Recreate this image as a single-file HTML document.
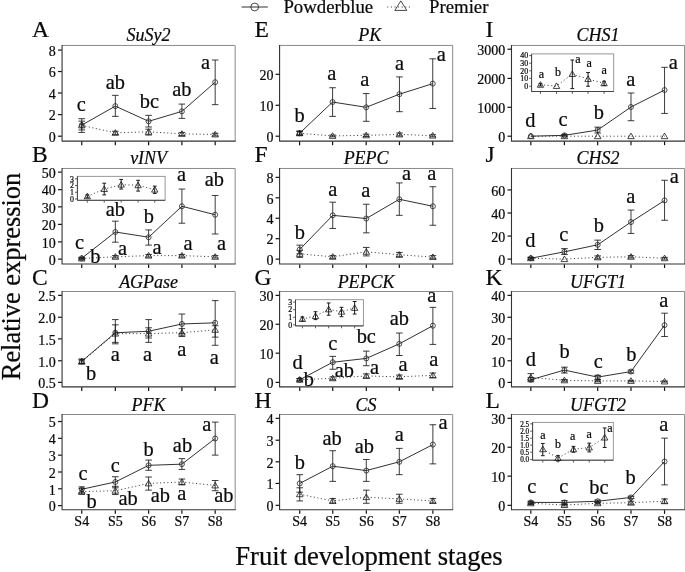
<!DOCTYPE html>
<html><head><meta charset="utf-8"><title>Relative expression</title>
<style>
html,body{margin:0;padding:0;background:#fff;}
body{width:685px;height:572px;overflow:hidden;font-family:"Liberation Serif",serif;}
svg{display:block;filter:grayscale(1);}
svg text{font-family:"Liberation Serif",serif;fill:#0a0a0a;stroke:#0a0a0a;stroke-width:0.22px;}
</style></head><body>
<svg width="685" height="572" viewBox="0 0 685 572">
<rect width="685" height="572" fill="#fff"/>
<path d="M62.07 45.45 H235.17 V141.15" fill="none" stroke="#8a8a8a" stroke-width="1"/>
<path d="M62.07 44.95 V141.15 H235.67" fill="none" stroke="#333" stroke-width="1.1" stroke-linejoin="round"/>
<path d="M58.07 50.07 H61.77" stroke="#111" stroke-width="1.2"/>
<text x="55.87" y="55.87" font-size="14.0" text-anchor="end" stroke-width="0.08">8</text>
<path d="M58.07 71.53 H61.77" stroke="#111" stroke-width="1.2"/>
<text x="55.87" y="77.33" font-size="14.0" text-anchor="end" stroke-width="0.08">6</text>
<path d="M58.07 92.99 H61.77" stroke="#111" stroke-width="1.2"/>
<text x="55.87" y="98.79" font-size="14.0" text-anchor="end" stroke-width="0.08">4</text>
<path d="M58.07 114.6 H61.77" stroke="#111" stroke-width="1.2"/>
<text x="55.87" y="120.4" font-size="14.0" text-anchor="end" stroke-width="0.08">2</text>
<path d="M58.07 136.2 H61.77" stroke="#111" stroke-width="1.2"/>
<text x="55.87" y="142" font-size="14.0" text-anchor="end" stroke-width="0.08">0</text>
<path d="M81.75 141.55 V145.15" stroke="#111" stroke-width="1.2"/>
<path d="M115.33 141.55 V145.15" stroke="#111" stroke-width="1.2"/>
<path d="M148.61 141.55 V145.15" stroke="#111" stroke-width="1.2"/>
<path d="M181.9 141.55 V145.15" stroke="#111" stroke-width="1.2"/>
<path d="M215.18 141.55 V145.15" stroke="#111" stroke-width="1.2"/>
<path d="M81.75 125.4 L115.33 132.85 L148.61 131.82 L181.9 133.87 L215.18 134.45" fill="none" stroke="#1a1a1a" stroke-width="0.9" stroke-dasharray="1 2.6"/>
<path d="M81.75 125.11 L115.33 106.13 L148.61 121.31 L181.9 111.39 L215.18 82.19" fill="none" stroke="#1a1a1a" stroke-width="0.9"/>
<path d="M81.75 118.69 V132.41 M78.45 118.69 H85.05 M78.45 132.41 H85.05" fill="none" stroke="#1a1a1a" stroke-width="0.85"/>
<path d="M115.33 131.24 V134.45 M112.03 131.24 H118.63 M112.03 134.45 H118.63" fill="none" stroke="#1a1a1a" stroke-width="0.85"/>
<path d="M148.61 129.2 V135.04 M145.31 129.2 H151.91 M145.31 135.04 H151.91" fill="none" stroke="#1a1a1a" stroke-width="0.85"/>
<path d="M181.9 132.41 V135.62 M178.6 132.41 H185.2 M178.6 135.62 H185.2" fill="none" stroke="#1a1a1a" stroke-width="0.85"/>
<path d="M215.18 133.28 V135.91 M211.88 133.28 H218.48 M211.88 135.91 H218.48" fill="none" stroke="#1a1a1a" stroke-width="0.85"/>
<path d="M81.75 121.17 V129.93 M78.45 121.17 H85.05 M78.45 129.93 H85.05" fill="none" stroke="#1a1a1a" stroke-width="0.85"/>
<path d="M115.33 95.33 V116.35 M112.03 95.33 H118.63 M112.03 116.35 H118.63" fill="none" stroke="#1a1a1a" stroke-width="0.85"/>
<path d="M148.61 115.33 V127.01 M145.31 115.33 H151.91 M145.31 127.01 H151.91" fill="none" stroke="#1a1a1a" stroke-width="0.85"/>
<path d="M181.9 104.09 V118.39 M178.6 104.09 H185.2 M178.6 118.39 H185.2" fill="none" stroke="#1a1a1a" stroke-width="0.85"/>
<path d="M215.18 60 V104.67 M211.88 60 H218.48 M211.88 104.67 H218.48" fill="none" stroke="#1a1a1a" stroke-width="0.85"/>
<path d="M81.75 122.27 L85.05 127.87 L78.45 127.87 Z" fill="none" stroke="#1a1a1a" stroke-width="0.8" stroke-linejoin="miter"/>
<path d="M115.33 129.71 L118.63 135.31 L112.03 135.31 Z" fill="none" stroke="#1a1a1a" stroke-width="0.8" stroke-linejoin="miter"/>
<path d="M148.61 128.69 L151.91 134.29 L145.31 134.29 Z" fill="none" stroke="#1a1a1a" stroke-width="0.8" stroke-linejoin="miter"/>
<path d="M181.9 130.73 L185.2 136.33 L178.6 136.33 Z" fill="none" stroke="#1a1a1a" stroke-width="0.8" stroke-linejoin="miter"/>
<path d="M215.18 131.32 L218.48 136.92 L211.88 136.92 Z" fill="none" stroke="#1a1a1a" stroke-width="0.8" stroke-linejoin="miter"/>
<circle cx="81.75" cy="125.11" r="2.5" fill="none" stroke="#1a1a1a" stroke-width="0.75"/>
<circle cx="115.33" cy="106.13" r="2.5" fill="none" stroke="#1a1a1a" stroke-width="0.75"/>
<circle cx="148.61" cy="121.31" r="2.5" fill="none" stroke="#1a1a1a" stroke-width="0.75"/>
<circle cx="181.9" cy="111.39" r="2.5" fill="none" stroke="#1a1a1a" stroke-width="0.75"/>
<circle cx="215.18" cy="82.19" r="2.5" fill="none" stroke="#1a1a1a" stroke-width="0.75"/>
<text x="81.17" y="111.35" font-size="20.4" text-anchor="middle">c</text>
<text x="115.33" y="89.16" font-size="20.4" text-anchor="middle">ab</text>
<text x="149.49" y="108.43" font-size="20.4" text-anchor="middle">bc</text>
<text x="181.9" y="95.87" font-size="20.4" text-anchor="middle">ab</text>
<text x="205.55" y="68.72" font-size="20.4" text-anchor="middle">a</text>
<text x="148.62" y="41.45" font-size="18" text-anchor="middle" font-style="italic">SuSy2</text>
<text x="32" y="36.6" font-size="23.5" text-anchor="start">A</text>
<path d="M62.07 168.47 H235.17 V264" fill="none" stroke="#8a8a8a" stroke-width="1"/>
<path d="M62.07 167.97 V264 H235.67" fill="none" stroke="#333" stroke-width="1.1" stroke-linejoin="round"/>
<path d="M58.07 172.12 H61.77" stroke="#111" stroke-width="1.2"/>
<text x="55.87" y="177.92" font-size="14.0" text-anchor="end" stroke-width="0.08">50</text>
<path d="M58.07 189.64 H61.77" stroke="#111" stroke-width="1.2"/>
<text x="55.87" y="195.44" font-size="14.0" text-anchor="end" stroke-width="0.08">40</text>
<path d="M58.07 206.86 H61.77" stroke="#111" stroke-width="1.2"/>
<text x="55.87" y="212.66" font-size="14.0" text-anchor="end" stroke-width="0.08">30</text>
<path d="M58.07 224.38 H61.77" stroke="#111" stroke-width="1.2"/>
<text x="55.87" y="230.18" font-size="14.0" text-anchor="end" stroke-width="0.08">20</text>
<path d="M58.07 241.9 H61.77" stroke="#111" stroke-width="1.2"/>
<text x="55.87" y="247.7" font-size="14.0" text-anchor="end" stroke-width="0.08">10</text>
<path d="M58.07 259.12 H61.77" stroke="#111" stroke-width="1.2"/>
<text x="55.87" y="264.92" font-size="14.0" text-anchor="end" stroke-width="0.08">0</text>
<path d="M81.75 264.4 V268" stroke="#111" stroke-width="1.2"/>
<path d="M115.33 264.4 V268" stroke="#111" stroke-width="1.2"/>
<path d="M148.61 264.4 V268" stroke="#111" stroke-width="1.2"/>
<path d="M181.9 264.4 V268" stroke="#111" stroke-width="1.2"/>
<path d="M215.18 264.4 V268" stroke="#111" stroke-width="1.2"/>
<path d="M81.75 258.54 L115.33 256.79 L148.61 255.62 L181.9 255.62 L215.18 256.79" fill="none" stroke="#1a1a1a" stroke-width="0.9" stroke-dasharray="1 2.6"/>
<path d="M81.75 258.25 L115.33 231.97 L148.61 237.23 L181.9 206.28 L215.18 214.74" fill="none" stroke="#1a1a1a" stroke-width="0.9"/>
<path d="M81.75 257.96 V259.12 M78.45 257.96 H85.05 M78.45 259.12 H85.05" fill="none" stroke="#1a1a1a" stroke-width="0.85"/>
<path d="M115.33 255.62 V257.96 M112.03 255.62 H118.63 M112.03 257.96 H118.63" fill="none" stroke="#1a1a1a" stroke-width="0.85"/>
<path d="M148.61 254.45 V257.08 M145.31 254.45 H151.91 M145.31 257.08 H151.91" fill="none" stroke="#1a1a1a" stroke-width="0.85"/>
<path d="M181.9 254.45 V257.08 M178.6 254.45 H185.2 M178.6 257.08 H185.2" fill="none" stroke="#1a1a1a" stroke-width="0.85"/>
<path d="M215.18 255.62 V257.96 M211.88 255.62 H218.48 M211.88 257.96 H218.48" fill="none" stroke="#1a1a1a" stroke-width="0.85"/>
<path d="M81.75 257.37 V259.12 M78.45 257.37 H85.05 M78.45 259.12 H85.05" fill="none" stroke="#1a1a1a" stroke-width="0.85"/>
<path d="M115.33 221.17 V242.19 M112.03 221.17 H118.63 M112.03 242.19 H118.63" fill="none" stroke="#1a1a1a" stroke-width="0.85"/>
<path d="M148.61 229.93 V245.11 M145.31 229.93 H151.91 M145.31 245.11 H151.91" fill="none" stroke="#1a1a1a" stroke-width="0.85"/>
<path d="M181.9 189.05 V223.21 M178.6 189.05 H185.2 M178.6 223.21 H185.2" fill="none" stroke="#1a1a1a" stroke-width="0.85"/>
<path d="M215.18 195.47 V234.01 M211.88 195.47 H218.48 M211.88 234.01 H218.48" fill="none" stroke="#1a1a1a" stroke-width="0.85"/>
<path d="M81.75 255.4 L85.05 261 L78.45 261 Z" fill="none" stroke="#1a1a1a" stroke-width="0.8" stroke-linejoin="miter"/>
<path d="M115.33 253.65 L118.63 259.25 L112.03 259.25 Z" fill="none" stroke="#1a1a1a" stroke-width="0.8" stroke-linejoin="miter"/>
<path d="M148.61 252.48 L151.91 258.08 L145.31 258.08 Z" fill="none" stroke="#1a1a1a" stroke-width="0.8" stroke-linejoin="miter"/>
<path d="M181.9 252.48 L185.2 258.08 L178.6 258.08 Z" fill="none" stroke="#1a1a1a" stroke-width="0.8" stroke-linejoin="miter"/>
<path d="M215.18 253.65 L218.48 259.25 L211.88 259.25 Z" fill="none" stroke="#1a1a1a" stroke-width="0.8" stroke-linejoin="miter"/>
<circle cx="81.75" cy="258.25" r="2.5" fill="none" stroke="#1a1a1a" stroke-width="0.75"/>
<circle cx="115.33" cy="231.97" r="2.5" fill="none" stroke="#1a1a1a" stroke-width="0.75"/>
<circle cx="148.61" cy="237.23" r="2.5" fill="none" stroke="#1a1a1a" stroke-width="0.75"/>
<circle cx="181.9" cy="206.28" r="2.5" fill="none" stroke="#1a1a1a" stroke-width="0.75"/>
<circle cx="215.18" cy="214.74" r="2.5" fill="none" stroke="#1a1a1a" stroke-width="0.75"/>
<text x="79.42" y="249.45" font-size="20.4" text-anchor="middle">c</text>
<text x="95.47" y="262.59" font-size="20.4" text-anchor="middle">b</text>
<text x="115.33" y="216.46" font-size="20.4" text-anchor="middle">ab</text>
<text x="122.63" y="255.29" font-size="20.4" text-anchor="middle">a</text>
<text x="148.91" y="223.17" font-size="20.4" text-anchor="middle">b</text>
<text x="157.08" y="253.83" font-size="20.4" text-anchor="middle">a</text>
<text x="181.61" y="180.84" font-size="20.4" text-anchor="middle">a</text>
<text x="188.03" y="250.33" font-size="20.4" text-anchor="middle">a</text>
<text x="214.31" y="186.09" font-size="20.4" text-anchor="middle">ab</text>
<text x="221.61" y="250.33" font-size="20.4" text-anchor="middle">a</text>
<text x="148.62" y="164.47" font-size="18" text-anchor="middle" font-style="italic">vINV</text>
<text x="32" y="161.57" font-size="23.5" text-anchor="start">B</text>
<rect x="77.4" y="176.35" width="87.7" height="23.95" fill="#fff" stroke="#8c8c8c" stroke-width="0.9"/>
<path d="M77.4 176.35 V200.3 H165.1" fill="none" stroke="#444" stroke-width="1"/>
<path d="M75 178.83 H77.1" stroke="#333" stroke-width="0.8"/>
<text x="74" y="181.53" font-size="7.9" text-anchor="end" stroke="none">3</text>
<path d="M75 185.55 H77.1" stroke="#333" stroke-width="0.8"/>
<text x="74" y="188.25" font-size="7.9" text-anchor="end" stroke="none">2</text>
<path d="M75 192.26 H77.1" stroke="#333" stroke-width="0.8"/>
<text x="74" y="194.96" font-size="7.9" text-anchor="end" stroke="none">1</text>
<path d="M75 198.98 H77.1" stroke="#333" stroke-width="0.8"/>
<text x="74" y="201.68" font-size="7.9" text-anchor="end" stroke="none">0</text>
<path d="M87.3 200.6 V202.7" stroke="#333" stroke-width="0.8"/>
<path d="M104.23 200.6 V202.7" stroke="#333" stroke-width="0.8"/>
<path d="M121.17 200.6 V202.7" stroke="#333" stroke-width="0.8"/>
<path d="M138.1 200.6 V202.7" stroke="#333" stroke-width="0.8"/>
<path d="M154.74 200.6 V202.7" stroke="#333" stroke-width="0.8"/>
<path d="M87.3 196.35 L104.23 189.05 L121.17 184.67 L138.1 185.26 L154.74 189.64" fill="none" stroke="#1a1a1a" stroke-width="0.9" stroke-dasharray="1 2.6"/>
<path d="M87.3 194.89 V197.81 M85.4 194.89 H89.2 M85.4 197.81 H89.2" fill="none" stroke="#1a1a1a" stroke-width="1.0"/>
<path d="M104.23 183.21 V194.89 M102.33 183.21 H106.13 M102.33 194.89 H106.13" fill="none" stroke="#1a1a1a" stroke-width="1.0"/>
<path d="M121.17 179.42 V189.05 M119.27 179.42 H123.07 M119.27 189.05 H123.07" fill="none" stroke="#1a1a1a" stroke-width="1.0"/>
<path d="M138.1 180.29 V191.09 M136.2 180.29 H140 M136.2 191.09 H140" fill="none" stroke="#1a1a1a" stroke-width="1.0"/>
<path d="M154.74 186.13 V193.43 M152.84 186.13 H156.64 M152.84 193.43 H156.64" fill="none" stroke="#1a1a1a" stroke-width="1.0"/>
<path d="M87.3 193.21 L90.5 198.81 L84.1 198.81 Z" fill="none" stroke="#1a1a1a" stroke-width="0.8" stroke-linejoin="miter"/>
<path d="M104.23 185.92 L107.43 191.52 L101.03 191.52 Z" fill="none" stroke="#1a1a1a" stroke-width="0.8" stroke-linejoin="miter"/>
<path d="M121.17 181.54 L124.37 187.14 L117.97 187.14 Z" fill="none" stroke="#1a1a1a" stroke-width="0.8" stroke-linejoin="miter"/>
<path d="M138.1 182.12 L141.3 187.72 L134.9 187.72 Z" fill="none" stroke="#1a1a1a" stroke-width="0.8" stroke-linejoin="miter"/>
<path d="M154.74 186.5 L157.94 192.1 L151.54 192.1 Z" fill="none" stroke="#1a1a1a" stroke-width="0.8" stroke-linejoin="miter"/>
<path d="M62.07 291.5 H235.17 V386.9" fill="none" stroke="#8a8a8a" stroke-width="1"/>
<path d="M62.07 291 V386.9 H235.67" fill="none" stroke="#333" stroke-width="1.1" stroke-linejoin="round"/>
<path d="M58.07 295.36 H61.77" stroke="#111" stroke-width="1.2"/>
<text x="55.87" y="301.16" font-size="14.0" text-anchor="end" stroke-width="0.08">2.5</text>
<path d="M58.07 317.26 H61.77" stroke="#111" stroke-width="1.2"/>
<text x="55.87" y="323.06" font-size="14.0" text-anchor="end" stroke-width="0.08">2.0</text>
<path d="M58.07 338.87 H61.77" stroke="#111" stroke-width="1.2"/>
<text x="55.87" y="344.67" font-size="14.0" text-anchor="end" stroke-width="0.08">1.5</text>
<path d="M58.07 360.77 H61.77" stroke="#111" stroke-width="1.2"/>
<text x="55.87" y="366.57" font-size="14.0" text-anchor="end" stroke-width="0.08">1.0</text>
<path d="M58.07 382.37 H61.77" stroke="#111" stroke-width="1.2"/>
<text x="55.87" y="388.17" font-size="14.0" text-anchor="end" stroke-width="0.08">0.5</text>
<path d="M81.75 387.3 V390.9" stroke="#111" stroke-width="1.2"/>
<path d="M115.33 387.3 V390.9" stroke="#111" stroke-width="1.2"/>
<path d="M148.61 387.3 V390.9" stroke="#111" stroke-width="1.2"/>
<path d="M181.9 387.3 V390.9" stroke="#111" stroke-width="1.2"/>
<path d="M215.18 387.3 V390.9" stroke="#111" stroke-width="1.2"/>
<path d="M81.75 361.64 L115.33 333.61 L148.61 333.61 L181.9 332.74 L215.18 329.82" fill="none" stroke="#1a1a1a" stroke-width="0.9" stroke-dasharray="1 2.6"/>
<path d="M81.75 361.35 L115.33 332.74 L148.61 331.28 L181.9 323.98 L215.18 322.81" fill="none" stroke="#1a1a1a" stroke-width="0.9"/>
<path d="M81.75 359.89 V363.39 M78.45 359.89 H85.05 M78.45 363.39 H85.05" fill="none" stroke="#1a1a1a" stroke-width="0.85"/>
<path d="M115.33 324.85 V342.37 M112.03 324.85 H118.63 M112.03 342.37 H118.63" fill="none" stroke="#1a1a1a" stroke-width="0.85"/>
<path d="M148.61 327.77 V337.99 M145.31 327.77 H151.91 M145.31 337.99 H151.91" fill="none" stroke="#1a1a1a" stroke-width="0.85"/>
<path d="M181.9 328.65 V336.53 M178.6 328.65 H185.2 M178.6 336.53 H185.2" fill="none" stroke="#1a1a1a" stroke-width="0.85"/>
<path d="M215.18 325.73 V337.12 M211.88 325.73 H218.48 M211.88 337.12 H218.48" fill="none" stroke="#1a1a1a" stroke-width="0.85"/>
<path d="M81.75 359.01 V363.69 M78.45 359.01 H85.05 M78.45 363.69 H85.05" fill="none" stroke="#1a1a1a" stroke-width="0.85"/>
<path d="M115.33 319.6 V343.83 M112.03 319.6 H118.63 M112.03 343.83 H118.63" fill="none" stroke="#1a1a1a" stroke-width="0.85"/>
<path d="M148.61 319.6 V342.37 M145.31 319.6 H151.91 M145.31 342.37 H151.91" fill="none" stroke="#1a1a1a" stroke-width="0.85"/>
<path d="M181.9 314.05 V333.61 M178.6 314.05 H185.2 M178.6 333.61 H185.2" fill="none" stroke="#1a1a1a" stroke-width="0.85"/>
<path d="M215.18 300.62 V345.29 M211.88 300.62 H218.48 M211.88 345.29 H218.48" fill="none" stroke="#1a1a1a" stroke-width="0.85"/>
<path d="M81.75 358.51 L85.05 364.11 L78.45 364.11 Z" fill="none" stroke="#1a1a1a" stroke-width="0.8" stroke-linejoin="miter"/>
<path d="M115.33 330.48 L118.63 336.08 L112.03 336.08 Z" fill="none" stroke="#1a1a1a" stroke-width="0.8" stroke-linejoin="miter"/>
<path d="M148.61 330.48 L151.91 336.08 L145.31 336.08 Z" fill="none" stroke="#1a1a1a" stroke-width="0.8" stroke-linejoin="miter"/>
<path d="M181.9 329.6 L185.2 335.2 L178.6 335.2 Z" fill="none" stroke="#1a1a1a" stroke-width="0.8" stroke-linejoin="miter"/>
<path d="M215.18 326.68 L218.48 332.28 L211.88 332.28 Z" fill="none" stroke="#1a1a1a" stroke-width="0.8" stroke-linejoin="miter"/>
<circle cx="81.75" cy="361.35" r="2.5" fill="none" stroke="#1a1a1a" stroke-width="0.75"/>
<circle cx="115.33" cy="332.74" r="2.5" fill="none" stroke="#1a1a1a" stroke-width="0.75"/>
<circle cx="148.61" cy="331.28" r="2.5" fill="none" stroke="#1a1a1a" stroke-width="0.75"/>
<circle cx="181.9" cy="323.98" r="2.5" fill="none" stroke="#1a1a1a" stroke-width="0.75"/>
<circle cx="215.18" cy="322.81" r="2.5" fill="none" stroke="#1a1a1a" stroke-width="0.75"/>
<text x="91.09" y="380.29" font-size="20.4" text-anchor="middle">b</text>
<text x="115.33" y="360.73" font-size="20.4" text-anchor="middle">a</text>
<text x="147.45" y="360.73" font-size="20.4" text-anchor="middle">a</text>
<text x="181.9" y="356.35" font-size="20.4" text-anchor="middle">a</text>
<text x="214.31" y="364.23" font-size="20.4" text-anchor="middle">a</text>
<text x="148.62" y="287.5" font-size="18" text-anchor="middle" font-style="italic">AGPase</text>
<text x="32" y="284.6" font-size="23.5" text-anchor="start">C</text>
<path d="M62.07 414.5 H235.17 V509.8" fill="none" stroke="#8a8a8a" stroke-width="1"/>
<path d="M62.07 414 V509.8 H235.67" fill="none" stroke="#333" stroke-width="1.1" stroke-linejoin="round"/>
<path d="M58.07 421.53 H61.77" stroke="#111" stroke-width="1.2"/>
<text x="55.87" y="427.33" font-size="14.0" text-anchor="end" stroke-width="0.08">5</text>
<path d="M58.07 438.35 H61.77" stroke="#111" stroke-width="1.2"/>
<text x="55.87" y="444.15" font-size="14.0" text-anchor="end" stroke-width="0.08">4</text>
<path d="M58.07 455.17 H61.77" stroke="#111" stroke-width="1.2"/>
<text x="55.87" y="460.97" font-size="14.0" text-anchor="end" stroke-width="0.08">3</text>
<path d="M58.07 471.99 H61.77" stroke="#111" stroke-width="1.2"/>
<text x="55.87" y="477.79" font-size="14.0" text-anchor="end" stroke-width="0.08">2</text>
<path d="M58.07 488.8 H61.77" stroke="#111" stroke-width="1.2"/>
<text x="55.87" y="494.6" font-size="14.0" text-anchor="end" stroke-width="0.08">1</text>
<path d="M58.07 505.62 H61.77" stroke="#111" stroke-width="1.2"/>
<text x="55.87" y="511.42" font-size="14.0" text-anchor="end" stroke-width="0.08">0</text>
<path d="M81.75 510.2 V513.8" stroke="#111" stroke-width="1.2"/>
<text x="81.75" y="526" font-size="14.0" text-anchor="middle" stroke-width="0.08">S4</text>
<path d="M115.33 510.2 V513.8" stroke="#111" stroke-width="1.2"/>
<text x="115.33" y="526" font-size="14.0" text-anchor="middle" stroke-width="0.08">S5</text>
<path d="M148.61 510.2 V513.8" stroke="#111" stroke-width="1.2"/>
<text x="148.61" y="526" font-size="14.0" text-anchor="middle" stroke-width="0.08">S6</text>
<path d="M181.9 510.2 V513.8" stroke="#111" stroke-width="1.2"/>
<text x="181.9" y="526" font-size="14.0" text-anchor="middle" stroke-width="0.08">S7</text>
<path d="M215.18 510.2 V513.8" stroke="#111" stroke-width="1.2"/>
<text x="215.18" y="526" font-size="14.0" text-anchor="middle" stroke-width="0.08">S8</text>
<path d="M81.75 491.61 L115.33 490.73 L148.61 483.43 L181.9 481.97 L215.18 485.47" fill="none" stroke="#1a1a1a" stroke-width="0.9" stroke-dasharray="1 2.6"/>
<path d="M81.75 489.27 L115.33 481.97 L148.61 465.33 L181.9 464.16 L215.18 438.47" fill="none" stroke="#1a1a1a" stroke-width="0.9"/>
<path d="M81.75 488.69 V494.23 M78.45 488.69 H85.05 M78.45 494.23 H85.05" fill="none" stroke="#1a1a1a" stroke-width="0.85"/>
<path d="M115.33 486.35 V494.53 M112.03 486.35 H118.63 M112.03 494.53 H118.63" fill="none" stroke="#1a1a1a" stroke-width="0.85"/>
<path d="M148.61 477.01 V490.15 M145.31 477.01 H151.91 M145.31 490.15 H151.91" fill="none" stroke="#1a1a1a" stroke-width="0.85"/>
<path d="M181.9 479.05 V484.89 M178.6 479.05 H185.2 M178.6 484.89 H185.2" fill="none" stroke="#1a1a1a" stroke-width="0.85"/>
<path d="M215.18 480.51 V490.73 M211.88 480.51 H218.48 M211.88 490.73 H218.48" fill="none" stroke="#1a1a1a" stroke-width="0.85"/>
<path d="M81.75 486.93 V492.77 M78.45 486.93 H85.05 M78.45 492.77 H85.05" fill="none" stroke="#1a1a1a" stroke-width="0.85"/>
<path d="M115.33 476.72 V487.81 M112.03 476.72 H118.63 M112.03 487.81 H118.63" fill="none" stroke="#1a1a1a" stroke-width="0.85"/>
<path d="M148.61 460.07 V470.29 M145.31 460.07 H151.91 M145.31 470.29 H151.91" fill="none" stroke="#1a1a1a" stroke-width="0.85"/>
<path d="M181.9 458.61 V469.42 M178.6 458.61 H185.2 M178.6 469.42 H185.2" fill="none" stroke="#1a1a1a" stroke-width="0.85"/>
<path d="M215.18 422.12 V455.11 M211.88 422.12 H218.48 M211.88 455.11 H218.48" fill="none" stroke="#1a1a1a" stroke-width="0.85"/>
<path d="M81.75 488.47 L85.05 494.07 L78.45 494.07 Z" fill="none" stroke="#1a1a1a" stroke-width="0.8" stroke-linejoin="miter"/>
<path d="M115.33 487.59 L118.63 493.19 L112.03 493.19 Z" fill="none" stroke="#1a1a1a" stroke-width="0.8" stroke-linejoin="miter"/>
<path d="M148.61 480.29 L151.91 485.89 L145.31 485.89 Z" fill="none" stroke="#1a1a1a" stroke-width="0.8" stroke-linejoin="miter"/>
<path d="M181.9 478.83 L185.2 484.43 L178.6 484.43 Z" fill="none" stroke="#1a1a1a" stroke-width="0.8" stroke-linejoin="miter"/>
<path d="M215.18 482.34 L218.48 487.94 L211.88 487.94 Z" fill="none" stroke="#1a1a1a" stroke-width="0.8" stroke-linejoin="miter"/>
<circle cx="81.75" cy="489.27" r="2.5" fill="none" stroke="#1a1a1a" stroke-width="0.75"/>
<circle cx="115.33" cy="481.97" r="2.5" fill="none" stroke="#1a1a1a" stroke-width="0.75"/>
<circle cx="148.61" cy="465.33" r="2.5" fill="none" stroke="#1a1a1a" stroke-width="0.75"/>
<circle cx="181.9" cy="464.16" r="2.5" fill="none" stroke="#1a1a1a" stroke-width="0.75"/>
<circle cx="215.18" cy="438.47" r="2.5" fill="none" stroke="#1a1a1a" stroke-width="0.75"/>
<text x="82.92" y="479.89" font-size="20.4" text-anchor="middle">c</text>
<text x="91.68" y="508.21" font-size="20.4" text-anchor="middle">b</text>
<text x="115.33" y="472.3" font-size="20.4" text-anchor="middle">c</text>
<text x="128.18" y="504.71" font-size="20.4" text-anchor="middle">ab</text>
<text x="148.61" y="456.24" font-size="20.4" text-anchor="middle">b</text>
<text x="160.29" y="502.37" font-size="20.4" text-anchor="middle">ab</text>
<text x="182.48" y="452.15" font-size="20.4" text-anchor="middle">ab</text>
<text x="181.9" y="500.03" font-size="20.4" text-anchor="middle">a</text>
<text x="206.72" y="430.84" font-size="20.4" text-anchor="middle">a</text>
<text x="223.94" y="502.37" font-size="20.4" text-anchor="middle">ab</text>
<text x="148.62" y="410.5" font-size="18" text-anchor="middle" font-style="italic">PFK</text>
<text x="32" y="407.6" font-size="23.5" text-anchor="start">D</text>
<path d="M279.58 45.45 H452.68 V141.15" fill="none" stroke="#8a8a8a" stroke-width="1"/>
<path d="M279.58 44.95 V141.15 H453.18" fill="none" stroke="#333" stroke-width="1.1" stroke-linejoin="round"/>
<path d="M275.58 74.31 H279.28" stroke="#111" stroke-width="1.2"/>
<text x="273.38" y="80.11" font-size="14.0" text-anchor="end" stroke-width="0.08">20</text>
<path d="M275.58 105.26 H279.28" stroke="#111" stroke-width="1.2"/>
<text x="273.38" y="111.06" font-size="14.0" text-anchor="end" stroke-width="0.08">10</text>
<path d="M275.58 136.2 H279.28" stroke="#111" stroke-width="1.2"/>
<text x="273.38" y="142" font-size="14.0" text-anchor="end" stroke-width="0.08">0</text>
<path d="M299.6 141.55 V145.15" stroke="#111" stroke-width="1.2"/>
<path d="M332.59 141.55 V145.15" stroke="#111" stroke-width="1.2"/>
<path d="M366.17 141.55 V145.15" stroke="#111" stroke-width="1.2"/>
<path d="M399.45 141.55 V145.15" stroke="#111" stroke-width="1.2"/>
<path d="M432.74 141.55 V145.15" stroke="#111" stroke-width="1.2"/>
<path d="M299.6 133.28 L332.59 135.91 L366.17 135.33 L399.45 134.45 L432.74 135.62" fill="none" stroke="#1a1a1a" stroke-width="0.9" stroke-dasharray="1 2.6"/>
<path d="M299.6 133.28 L332.59 102.04 L366.17 107.3 L399.45 94.16 L432.74 83.65" fill="none" stroke="#1a1a1a" stroke-width="0.9"/>
<path d="M299.6 131.53 V135.04 M296.3 131.53 H302.9 M296.3 135.04 H302.9" fill="none" stroke="#1a1a1a" stroke-width="0.85"/>
<path d="M332.59 135.04 V136.79 M329.29 135.04 H335.89 M329.29 136.79 H335.89" fill="none" stroke="#1a1a1a" stroke-width="0.85"/>
<path d="M366.17 134.16 V136.5 M362.87 134.16 H369.47 M362.87 136.5 H369.47" fill="none" stroke="#1a1a1a" stroke-width="0.85"/>
<path d="M399.45 132.99 V135.91 M396.15 132.99 H402.75 M396.15 135.91 H402.75" fill="none" stroke="#1a1a1a" stroke-width="0.85"/>
<path d="M432.74 134.74 V136.79 M429.44 134.74 H436.04 M429.44 136.79 H436.04" fill="none" stroke="#1a1a1a" stroke-width="0.85"/>
<path d="M299.6 130.95 V135.04 M296.3 130.95 H302.9 M296.3 135.04 H302.9" fill="none" stroke="#1a1a1a" stroke-width="0.85"/>
<path d="M332.59 87.74 V116.35 M329.29 87.74 H335.89 M329.29 116.35 H335.89" fill="none" stroke="#1a1a1a" stroke-width="0.85"/>
<path d="M366.17 93.58 V121.31 M362.87 93.58 H369.47 M362.87 121.31 H369.47" fill="none" stroke="#1a1a1a" stroke-width="0.85"/>
<path d="M399.45 76.93 V111.68 M396.15 76.93 H402.75 M396.15 111.68 H402.75" fill="none" stroke="#1a1a1a" stroke-width="0.85"/>
<path d="M432.74 58.83 V108.47 M429.44 58.83 H436.04 M429.44 108.47 H436.04" fill="none" stroke="#1a1a1a" stroke-width="0.85"/>
<path d="M299.6 130.15 L302.9 135.75 L296.3 135.75 Z" fill="none" stroke="#1a1a1a" stroke-width="0.8" stroke-linejoin="miter"/>
<path d="M332.59 132.78 L335.89 138.38 L329.29 138.38 Z" fill="none" stroke="#1a1a1a" stroke-width="0.8" stroke-linejoin="miter"/>
<path d="M366.17 132.19 L369.47 137.79 L362.87 137.79 Z" fill="none" stroke="#1a1a1a" stroke-width="0.8" stroke-linejoin="miter"/>
<path d="M399.45 131.32 L402.75 136.92 L396.15 136.92 Z" fill="none" stroke="#1a1a1a" stroke-width="0.8" stroke-linejoin="miter"/>
<path d="M432.74 132.48 L436.04 138.08 L429.44 138.08 Z" fill="none" stroke="#1a1a1a" stroke-width="0.8" stroke-linejoin="miter"/>
<circle cx="299.6" cy="133.28" r="2.5" fill="none" stroke="#1a1a1a" stroke-width="0.75"/>
<circle cx="332.59" cy="102.04" r="2.5" fill="none" stroke="#1a1a1a" stroke-width="0.75"/>
<circle cx="366.17" cy="107.3" r="2.5" fill="none" stroke="#1a1a1a" stroke-width="0.75"/>
<circle cx="399.45" cy="94.16" r="2.5" fill="none" stroke="#1a1a1a" stroke-width="0.75"/>
<circle cx="432.74" cy="83.65" r="2.5" fill="none" stroke="#1a1a1a" stroke-width="0.75"/>
<text x="299.6" y="121.57" font-size="20.4" text-anchor="middle">b</text>
<text x="331.72" y="80.4" font-size="20.4" text-anchor="middle">a</text>
<text x="364.71" y="86.24" font-size="20.4" text-anchor="middle">a</text>
<text x="399.45" y="69.6" font-size="20.4" text-anchor="middle">a</text>
<text x="441.2" y="61.42" font-size="20.4" text-anchor="middle">a</text>
<text x="369.73" y="41.45" font-size="18" text-anchor="middle" font-style="italic">PK</text>
<text x="254.6" y="36.6" font-size="23.5" text-anchor="start">E</text>
<path d="M279.58 168.47 H452.68 V264" fill="none" stroke="#8a8a8a" stroke-width="1"/>
<path d="M279.58 167.97 V264 H453.18" fill="none" stroke="#333" stroke-width="1.1" stroke-linejoin="round"/>
<path d="M275.58 177.37 H279.28" stroke="#111" stroke-width="1.2"/>
<text x="273.38" y="183.17" font-size="14.0" text-anchor="end" stroke-width="0.08">8</text>
<path d="M275.58 197.81 H279.28" stroke="#111" stroke-width="1.2"/>
<text x="273.38" y="203.61" font-size="14.0" text-anchor="end" stroke-width="0.08">6</text>
<path d="M275.58 218.25 H279.28" stroke="#111" stroke-width="1.2"/>
<text x="273.38" y="224.05" font-size="14.0" text-anchor="end" stroke-width="0.08">4</text>
<path d="M275.58 238.69 H279.28" stroke="#111" stroke-width="1.2"/>
<text x="273.38" y="244.49" font-size="14.0" text-anchor="end" stroke-width="0.08">2</text>
<path d="M275.58 259.12 H279.28" stroke="#111" stroke-width="1.2"/>
<text x="273.38" y="264.92" font-size="14.0" text-anchor="end" stroke-width="0.08">0</text>
<path d="M299.74 264.4 V268" stroke="#111" stroke-width="1.2"/>
<path d="M332.74 264.4 V268" stroke="#111" stroke-width="1.2"/>
<path d="M366.31 264.4 V268" stroke="#111" stroke-width="1.2"/>
<path d="M399.31 264.4 V268" stroke="#111" stroke-width="1.2"/>
<path d="M432.88 264.4 V268" stroke="#111" stroke-width="1.2"/>
<path d="M299.74 253.87 L332.74 256.79 L366.31 251.82 L399.31 254.74 L432.88 257.08" fill="none" stroke="#1a1a1a" stroke-width="0.9" stroke-dasharray="1 2.6"/>
<path d="M299.74 249.49 L332.74 215.33 L366.31 218.54 L399.31 199.27 L432.88 206.28" fill="none" stroke="#1a1a1a" stroke-width="0.9"/>
<path d="M299.74 250.36 V257.37 M296.44 250.36 H303.04 M296.44 257.37 H303.04" fill="none" stroke="#1a1a1a" stroke-width="0.85"/>
<path d="M332.74 255.62 V258.25 M329.44 255.62 H336.04 M329.44 258.25 H336.04" fill="none" stroke="#1a1a1a" stroke-width="0.85"/>
<path d="M366.31 247.45 V255.91 M363.01 247.45 H369.61 M363.01 255.91 H369.61" fill="none" stroke="#1a1a1a" stroke-width="0.85"/>
<path d="M399.31 252.41 V256.79 M396.01 252.41 H402.61 M396.01 256.79 H402.61" fill="none" stroke="#1a1a1a" stroke-width="0.85"/>
<path d="M432.88 255.62 V258.25 M429.58 255.62 H436.18 M429.58 258.25 H436.18" fill="none" stroke="#1a1a1a" stroke-width="0.85"/>
<path d="M299.74 245.11 V253.87 M296.44 245.11 H303.04 M296.44 253.87 H303.04" fill="none" stroke="#1a1a1a" stroke-width="0.85"/>
<path d="M332.74 202.19 V228.47 M329.44 202.19 H336.04 M329.44 228.47 H336.04" fill="none" stroke="#1a1a1a" stroke-width="0.85"/>
<path d="M366.31 204.23 V232.85 M363.01 204.23 H369.61 M363.01 232.85 H369.61" fill="none" stroke="#1a1a1a" stroke-width="0.85"/>
<path d="M399.31 182.92 V215.33 M396.01 182.92 H402.61 M396.01 215.33 H402.61" fill="none" stroke="#1a1a1a" stroke-width="0.85"/>
<path d="M432.88 186.72 V225.26 M429.58 186.72 H436.18 M429.58 225.26 H436.18" fill="none" stroke="#1a1a1a" stroke-width="0.85"/>
<path d="M299.74 250.73 L303.04 256.33 L296.44 256.33 Z" fill="none" stroke="#1a1a1a" stroke-width="0.8" stroke-linejoin="miter"/>
<path d="M332.74 253.65 L336.04 259.25 L329.44 259.25 Z" fill="none" stroke="#1a1a1a" stroke-width="0.8" stroke-linejoin="miter"/>
<path d="M366.31 248.69 L369.61 254.29 L363.01 254.29 Z" fill="none" stroke="#1a1a1a" stroke-width="0.8" stroke-linejoin="miter"/>
<path d="M399.31 251.61 L402.61 257.21 L396.01 257.21 Z" fill="none" stroke="#1a1a1a" stroke-width="0.8" stroke-linejoin="miter"/>
<path d="M432.88 253.94 L436.18 259.54 L429.58 259.54 Z" fill="none" stroke="#1a1a1a" stroke-width="0.8" stroke-linejoin="miter"/>
<circle cx="299.74" cy="249.49" r="2.5" fill="none" stroke="#1a1a1a" stroke-width="0.75"/>
<circle cx="332.74" cy="215.33" r="2.5" fill="none" stroke="#1a1a1a" stroke-width="0.75"/>
<circle cx="366.31" cy="218.54" r="2.5" fill="none" stroke="#1a1a1a" stroke-width="0.75"/>
<circle cx="399.31" cy="199.27" r="2.5" fill="none" stroke="#1a1a1a" stroke-width="0.75"/>
<circle cx="432.88" cy="206.28" r="2.5" fill="none" stroke="#1a1a1a" stroke-width="0.75"/>
<text x="299.74" y="238.65" font-size="20.4" text-anchor="middle">b</text>
<text x="332.74" y="196.02" font-size="20.4" text-anchor="middle">a</text>
<text x="365.73" y="196.89" font-size="20.4" text-anchor="middle">a</text>
<text x="406.61" y="180.25" font-size="20.4" text-anchor="middle">a</text>
<text x="431.72" y="180.25" font-size="20.4" text-anchor="middle">a</text>
<text x="366.13" y="164.47" font-size="18" text-anchor="middle" font-style="italic">PEPC</text>
<text x="254.6" y="161.57" font-size="23.5" text-anchor="start">F</text>
<path d="M279.58 291.5 H452.68 V386.9" fill="none" stroke="#8a8a8a" stroke-width="1"/>
<path d="M279.58 291 V386.9 H453.18" fill="none" stroke="#333" stroke-width="1.1" stroke-linejoin="round"/>
<path d="M275.58 295.36 H279.28" stroke="#111" stroke-width="1.2"/>
<text x="273.38" y="301.16" font-size="14.0" text-anchor="end" stroke-width="0.08">30</text>
<path d="M275.58 324.27 H279.28" stroke="#111" stroke-width="1.2"/>
<text x="273.38" y="330.07" font-size="14.0" text-anchor="end" stroke-width="0.08">20</text>
<path d="M275.58 353.18 H279.28" stroke="#111" stroke-width="1.2"/>
<text x="273.38" y="358.98" font-size="14.0" text-anchor="end" stroke-width="0.08">10</text>
<path d="M275.58 382.37 H279.28" stroke="#111" stroke-width="1.2"/>
<text x="273.38" y="388.17" font-size="14.0" text-anchor="end" stroke-width="0.08">0</text>
<path d="M299.74 387.3 V390.9" stroke="#111" stroke-width="1.2"/>
<path d="M332.74 387.3 V390.9" stroke="#111" stroke-width="1.2"/>
<path d="M366.31 387.3 V390.9" stroke="#111" stroke-width="1.2"/>
<path d="M399.31 387.3 V390.9" stroke="#111" stroke-width="1.2"/>
<path d="M432.88 387.3 V390.9" stroke="#111" stroke-width="1.2"/>
<path d="M299.74 379.74 L332.74 378.28 L366.31 375.95 L399.31 376.82 L432.88 375.36" fill="none" stroke="#1a1a1a" stroke-width="0.9" stroke-dasharray="1 2.6"/>
<path d="M299.74 379.74 L332.74 362.23 L366.31 358.43 L399.31 343.83 L432.88 325.73" fill="none" stroke="#1a1a1a" stroke-width="0.9"/>
<path d="M299.74 378.58 V380.91 M296.44 378.58 H303.04 M296.44 380.91 H303.04" fill="none" stroke="#1a1a1a" stroke-width="0.85"/>
<path d="M332.74 376.82 V379.74 M329.44 376.82 H336.04 M329.44 379.74 H336.04" fill="none" stroke="#1a1a1a" stroke-width="0.85"/>
<path d="M366.31 373.91 V377.99 M363.01 373.91 H369.61 M363.01 377.99 H369.61" fill="none" stroke="#1a1a1a" stroke-width="0.85"/>
<path d="M399.31 375.07 V378.58 M396.01 375.07 H402.61 M396.01 378.58 H402.61" fill="none" stroke="#1a1a1a" stroke-width="0.85"/>
<path d="M432.88 373.03 V377.7 M429.58 373.03 H436.18 M429.58 377.7 H436.18" fill="none" stroke="#1a1a1a" stroke-width="0.85"/>
<path d="M299.74 378.58 V380.91 M296.44 378.58 H303.04 M296.44 380.91 H303.04" fill="none" stroke="#1a1a1a" stroke-width="0.85"/>
<path d="M332.74 356.39 V369.23 M329.44 356.39 H336.04 M329.44 369.23 H336.04" fill="none" stroke="#1a1a1a" stroke-width="0.85"/>
<path d="M366.31 351.13 V365.73 M363.01 351.13 H369.61 M363.01 365.73 H369.61" fill="none" stroke="#1a1a1a" stroke-width="0.85"/>
<path d="M399.31 333.03 V355.51 M396.01 333.03 H402.61 M396.01 355.51 H402.61" fill="none" stroke="#1a1a1a" stroke-width="0.85"/>
<path d="M432.88 307.34 V344.42 M429.58 307.34 H436.18 M429.58 344.42 H436.18" fill="none" stroke="#1a1a1a" stroke-width="0.85"/>
<path d="M299.74 376.61 L303.04 382.21 L296.44 382.21 Z" fill="none" stroke="#1a1a1a" stroke-width="0.8" stroke-linejoin="miter"/>
<path d="M332.74 375.15 L336.04 380.75 L329.44 380.75 Z" fill="none" stroke="#1a1a1a" stroke-width="0.8" stroke-linejoin="miter"/>
<path d="M366.31 372.81 L369.61 378.41 L363.01 378.41 Z" fill="none" stroke="#1a1a1a" stroke-width="0.8" stroke-linejoin="miter"/>
<path d="M399.31 373.69 L402.61 379.29 L396.01 379.29 Z" fill="none" stroke="#1a1a1a" stroke-width="0.8" stroke-linejoin="miter"/>
<path d="M432.88 372.23 L436.18 377.83 L429.58 377.83 Z" fill="none" stroke="#1a1a1a" stroke-width="0.8" stroke-linejoin="miter"/>
<circle cx="299.74" cy="379.74" r="2.5" fill="none" stroke="#1a1a1a" stroke-width="0.75"/>
<circle cx="332.74" cy="362.23" r="2.5" fill="none" stroke="#1a1a1a" stroke-width="0.75"/>
<circle cx="366.31" cy="358.43" r="2.5" fill="none" stroke="#1a1a1a" stroke-width="0.75"/>
<circle cx="399.31" cy="343.83" r="2.5" fill="none" stroke="#1a1a1a" stroke-width="0.75"/>
<circle cx="432.88" cy="325.73" r="2.5" fill="none" stroke="#1a1a1a" stroke-width="0.75"/>
<text x="297.7" y="369.19" font-size="20.4" text-anchor="middle">d</text>
<text x="308.8" y="385.54" font-size="20.4" text-anchor="middle">b</text>
<text x="332.74" y="349.63" font-size="20.4" text-anchor="middle">c</text>
<text x="344.42" y="377.37" font-size="20.4" text-anchor="middle">ab</text>
<text x="366.31" y="342.92" font-size="20.4" text-anchor="middle">bc</text>
<text x="374.49" y="373.57" font-size="20.4" text-anchor="middle">a</text>
<text x="399.31" y="324.81" font-size="20.4" text-anchor="middle">ab</text>
<text x="403.1" y="370.95" font-size="20.4" text-anchor="middle">a</text>
<text x="431.72" y="302.33" font-size="20.4" text-anchor="middle">a</text>
<text x="433.76" y="366.27" font-size="20.4" text-anchor="middle">a</text>
<text x="366.13" y="287.5" font-size="18" text-anchor="middle" font-style="italic">PEPCK</text>
<text x="254.6" y="284.6" font-size="23.5" text-anchor="start">G</text>
<rect x="295.5" y="299.7" width="67.9" height="26.2" fill="#fff" stroke="#8c8c8c" stroke-width="0.9"/>
<path d="M295.5 299.7 V325.9 H363.4" fill="none" stroke="#444" stroke-width="1"/>
<path d="M293.1 302.08 H295.2" stroke="#333" stroke-width="0.8"/>
<text x="292.1" y="304.78" font-size="7.9" text-anchor="end" stroke="none">3</text>
<path d="M293.1 309.67 H295.2" stroke="#333" stroke-width="0.8"/>
<text x="292.1" y="312.37" font-size="7.9" text-anchor="end" stroke="none">2</text>
<path d="M293.1 317.26 H295.2" stroke="#333" stroke-width="0.8"/>
<text x="292.1" y="319.96" font-size="7.9" text-anchor="end" stroke="none">1</text>
<path d="M293.1 324.85 H295.2" stroke="#333" stroke-width="0.8"/>
<text x="292.1" y="327.55" font-size="7.9" text-anchor="end" stroke="none">0</text>
<path d="M302.37 326.2 V328.3" stroke="#333" stroke-width="0.8"/>
<path d="M315.51 326.2 V328.3" stroke="#333" stroke-width="0.8"/>
<path d="M328.65 326.2 V328.3" stroke="#333" stroke-width="0.8"/>
<path d="M341.5 326.2 V328.3" stroke="#333" stroke-width="0.8"/>
<path d="M354.64 326.2 V328.3" stroke="#333" stroke-width="0.8"/>
<path d="M302.37 319.01 L315.51 316.09 L328.65 309.38 L341.5 311.72 L354.64 307.92" fill="none" stroke="#1a1a1a" stroke-width="0.9" stroke-dasharray="1 2.6"/>
<path d="M302.37 316.97 V321.06 M300.47 316.97 H304.27 M300.47 321.06 H304.27" fill="none" stroke="#1a1a1a" stroke-width="1.0"/>
<path d="M315.51 311.72 V319.6 M313.61 311.72 H317.41 M313.61 319.6 H317.41" fill="none" stroke="#1a1a1a" stroke-width="1.0"/>
<path d="M328.65 302.96 V315.22 M326.75 302.96 H330.55 M326.75 315.22 H330.55" fill="none" stroke="#1a1a1a" stroke-width="1.0"/>
<path d="M341.5 307.34 V316.68 M339.6 307.34 H343.4 M339.6 316.68 H343.4" fill="none" stroke="#1a1a1a" stroke-width="1.0"/>
<path d="M354.64 301.5 V314.05 M352.74 301.5 H356.54 M352.74 314.05 H356.54" fill="none" stroke="#1a1a1a" stroke-width="1.0"/>
<path d="M302.37 315.88 L305.57 321.48 L299.17 321.48 Z" fill="none" stroke="#1a1a1a" stroke-width="0.8" stroke-linejoin="miter"/>
<path d="M315.51 312.96 L318.71 318.56 L312.31 318.56 Z" fill="none" stroke="#1a1a1a" stroke-width="0.8" stroke-linejoin="miter"/>
<path d="M328.65 306.24 L331.85 311.84 L325.45 311.84 Z" fill="none" stroke="#1a1a1a" stroke-width="0.8" stroke-linejoin="miter"/>
<path d="M341.5 308.58 L344.7 314.18 L338.3 314.18 Z" fill="none" stroke="#1a1a1a" stroke-width="0.8" stroke-linejoin="miter"/>
<path d="M354.64 304.78 L357.84 310.38 L351.44 310.38 Z" fill="none" stroke="#1a1a1a" stroke-width="0.8" stroke-linejoin="miter"/>
<path d="M279.58 414.5 H452.68 V509.8" fill="none" stroke="#8a8a8a" stroke-width="1"/>
<path d="M279.58 414 V509.8 H453.18" fill="none" stroke="#333" stroke-width="1.1" stroke-linejoin="round"/>
<path d="M275.58 418.32 H279.28" stroke="#111" stroke-width="1.2"/>
<text x="273.38" y="424.12" font-size="14.0" text-anchor="end" stroke-width="0.08">4</text>
<path d="M275.58 440.22 H279.28" stroke="#111" stroke-width="1.2"/>
<text x="273.38" y="446.02" font-size="14.0" text-anchor="end" stroke-width="0.08">3</text>
<path d="M275.58 461.82 H279.28" stroke="#111" stroke-width="1.2"/>
<text x="273.38" y="467.62" font-size="14.0" text-anchor="end" stroke-width="0.08">2</text>
<path d="M275.58 483.43 H279.28" stroke="#111" stroke-width="1.2"/>
<text x="273.38" y="489.23" font-size="14.0" text-anchor="end" stroke-width="0.08">1</text>
<path d="M275.58 505.33 H279.28" stroke="#111" stroke-width="1.2"/>
<text x="273.38" y="511.13" font-size="14.0" text-anchor="end" stroke-width="0.08">0</text>
<path d="M299.74 510.2 V513.8" stroke="#111" stroke-width="1.2"/>
<text x="299.74" y="526" font-size="14.0" text-anchor="middle" stroke-width="0.08">S4</text>
<path d="M332.74 510.2 V513.8" stroke="#111" stroke-width="1.2"/>
<text x="332.74" y="526" font-size="14.0" text-anchor="middle" stroke-width="0.08">S5</text>
<path d="M366.31 510.2 V513.8" stroke="#111" stroke-width="1.2"/>
<text x="366.31" y="526" font-size="14.0" text-anchor="middle" stroke-width="0.08">S6</text>
<path d="M399.31 510.2 V513.8" stroke="#111" stroke-width="1.2"/>
<text x="399.31" y="526" font-size="14.0" text-anchor="middle" stroke-width="0.08">S7</text>
<path d="M432.88 510.2 V513.8" stroke="#111" stroke-width="1.2"/>
<text x="432.88" y="526" font-size="14.0" text-anchor="middle" stroke-width="0.08">S8</text>
<path d="M299.74 494.23 L332.74 500.95 L366.31 497.15 L399.31 498.91 L432.88 500.95" fill="none" stroke="#1a1a1a" stroke-width="0.9" stroke-dasharray="1 2.6"/>
<path d="M299.74 483.43 L332.74 466.2 L366.31 470.58 L399.31 461.82 L432.88 444.6" fill="none" stroke="#1a1a1a" stroke-width="0.9"/>
<path d="M299.74 487.81 V500.95 M296.44 487.81 H303.04 M296.44 500.95 H303.04" fill="none" stroke="#1a1a1a" stroke-width="0.85"/>
<path d="M332.74 498.61 V502.99 M329.44 498.61 H336.04 M329.44 502.99 H336.04" fill="none" stroke="#1a1a1a" stroke-width="0.85"/>
<path d="M366.31 490.15 V503.28 M363.01 490.15 H369.61 M363.01 503.28 H369.61" fill="none" stroke="#1a1a1a" stroke-width="0.85"/>
<path d="M399.31 494.23 V503.28 M396.01 494.23 H402.61 M396.01 503.28 H402.61" fill="none" stroke="#1a1a1a" stroke-width="0.85"/>
<path d="M432.88 498.61 V502.99 M429.58 498.61 H436.18 M429.58 502.99 H436.18" fill="none" stroke="#1a1a1a" stroke-width="0.85"/>
<path d="M299.74 474.67 V492.19 M296.44 474.67 H303.04 M296.44 492.19 H303.04" fill="none" stroke="#1a1a1a" stroke-width="0.85"/>
<path d="M332.74 450.73 V481.39 M329.44 450.73 H336.04 M329.44 481.39 H336.04" fill="none" stroke="#1a1a1a" stroke-width="0.85"/>
<path d="M366.31 459.49 V481.39 M363.01 459.49 H369.61 M363.01 481.39 H369.61" fill="none" stroke="#1a1a1a" stroke-width="0.85"/>
<path d="M399.31 448.39 V474.67 M396.01 448.39 H402.61 M396.01 474.67 H402.61" fill="none" stroke="#1a1a1a" stroke-width="0.85"/>
<path d="M432.88 424.74 V463.87 M429.58 424.74 H436.18 M429.58 463.87 H436.18" fill="none" stroke="#1a1a1a" stroke-width="0.85"/>
<path d="M299.74 491.1 L303.04 496.7 L296.44 496.7 Z" fill="none" stroke="#1a1a1a" stroke-width="0.8" stroke-linejoin="miter"/>
<path d="M332.74 497.81 L336.04 503.41 L329.44 503.41 Z" fill="none" stroke="#1a1a1a" stroke-width="0.8" stroke-linejoin="miter"/>
<path d="M366.31 494.02 L369.61 499.62 L363.01 499.62 Z" fill="none" stroke="#1a1a1a" stroke-width="0.8" stroke-linejoin="miter"/>
<path d="M399.31 495.77 L402.61 501.37 L396.01 501.37 Z" fill="none" stroke="#1a1a1a" stroke-width="0.8" stroke-linejoin="miter"/>
<path d="M432.88 497.81 L436.18 503.41 L429.58 503.41 Z" fill="none" stroke="#1a1a1a" stroke-width="0.8" stroke-linejoin="miter"/>
<circle cx="299.74" cy="483.43" r="2.5" fill="none" stroke="#1a1a1a" stroke-width="0.75"/>
<circle cx="332.74" cy="466.2" r="2.5" fill="none" stroke="#1a1a1a" stroke-width="0.75"/>
<circle cx="366.31" cy="470.58" r="2.5" fill="none" stroke="#1a1a1a" stroke-width="0.75"/>
<circle cx="399.31" cy="461.82" r="2.5" fill="none" stroke="#1a1a1a" stroke-width="0.75"/>
<circle cx="432.88" cy="444.6" r="2.5" fill="none" stroke="#1a1a1a" stroke-width="0.75"/>
<text x="299.74" y="468.79" font-size="20.4" text-anchor="middle">b</text>
<text x="332.15" y="444.56" font-size="20.4" text-anchor="middle">ab</text>
<text x="364.27" y="452.73" font-size="20.4" text-anchor="middle">ab</text>
<text x="399.31" y="441.06" font-size="20.4" text-anchor="middle">a</text>
<text x="443.1" y="428.79" font-size="20.4" text-anchor="middle">a</text>
<text x="366.13" y="410.5" font-size="18" text-anchor="middle" font-style="italic">CS</text>
<text x="254.6" y="407.6" font-size="23.5" text-anchor="start">H</text>
<path d="M511.49 45.45 H684.59 V141.15" fill="none" stroke="#8a8a8a" stroke-width="1"/>
<path d="M511.49 44.95 V141.15 H685.09" fill="none" stroke="#333" stroke-width="1.1" stroke-linejoin="round"/>
<path d="M507.49 49.2 H511.19" stroke="#111" stroke-width="1.2"/>
<text x="505.29" y="55" font-size="14.0" text-anchor="end" stroke-width="0.08">3000</text>
<path d="M507.49 78.39 H511.19" stroke="#111" stroke-width="1.2"/>
<text x="505.29" y="84.19" font-size="14.0" text-anchor="end" stroke-width="0.08">2000</text>
<path d="M507.49 107.3 H511.19" stroke="#111" stroke-width="1.2"/>
<text x="505.29" y="113.1" font-size="14.0" text-anchor="end" stroke-width="0.08">1000</text>
<path d="M507.49 136.2 H511.19" stroke="#111" stroke-width="1.2"/>
<text x="505.29" y="142" font-size="14.0" text-anchor="end" stroke-width="0.08">0</text>
<path d="M530.84 141.55 V145.15" stroke="#111" stroke-width="1.2"/>
<path d="M564.42 141.55 V145.15" stroke="#111" stroke-width="1.2"/>
<path d="M597.7 141.55 V145.15" stroke="#111" stroke-width="1.2"/>
<path d="M630.99 141.55 V145.15" stroke="#111" stroke-width="1.2"/>
<path d="M664.56 141.55 V145.15" stroke="#111" stroke-width="1.2"/>
<path d="M530.84 136.2 L564.42 136.2 L597.7 136.2 L630.99 136.2 L664.56 136.2" fill="none" stroke="#1a1a1a" stroke-width="0.9" stroke-dasharray="1 2.6"/>
<path d="M530.84 136.2 L564.42 135.33 L597.7 130.07 L630.99 107.01 L664.56 90.07" fill="none" stroke="#1a1a1a" stroke-width="0.9"/>
<path d="M564.42 134.45 V136.2 M561.12 134.45 H567.72 M561.12 136.2 H567.72" fill="none" stroke="#1a1a1a" stroke-width="0.85"/>
<path d="M597.7 127.15 V132.99 M594.4 127.15 H601 M594.4 132.99 H601" fill="none" stroke="#1a1a1a" stroke-width="0.85"/>
<path d="M630.99 92.99 V120.73 M627.69 92.99 H634.29 M627.69 120.73 H634.29" fill="none" stroke="#1a1a1a" stroke-width="0.85"/>
<path d="M664.56 67.3 V113.43 M661.26 67.3 H667.86 M661.26 113.43 H667.86" fill="none" stroke="#1a1a1a" stroke-width="0.85"/>
<path d="M530.84 133.07 L534.14 138.67 L527.54 138.67 Z" fill="none" stroke="#1a1a1a" stroke-width="0.8" stroke-linejoin="miter"/>
<path d="M564.42 133.07 L567.72 138.67 L561.12 138.67 Z" fill="none" stroke="#1a1a1a" stroke-width="0.8" stroke-linejoin="miter"/>
<path d="M597.7 133.07 L601 138.67 L594.4 138.67 Z" fill="none" stroke="#1a1a1a" stroke-width="0.8" stroke-linejoin="miter"/>
<path d="M630.99 133.07 L634.29 138.67 L627.69 138.67 Z" fill="none" stroke="#1a1a1a" stroke-width="0.8" stroke-linejoin="miter"/>
<path d="M664.56 133.07 L667.86 138.67 L661.26 138.67 Z" fill="none" stroke="#1a1a1a" stroke-width="0.8" stroke-linejoin="miter"/>
<circle cx="530.84" cy="136.2" r="2.5" fill="none" stroke="#1a1a1a" stroke-width="0.75"/>
<circle cx="564.42" cy="135.33" r="2.5" fill="none" stroke="#1a1a1a" stroke-width="0.75"/>
<circle cx="597.7" cy="130.07" r="2.5" fill="none" stroke="#1a1a1a" stroke-width="0.75"/>
<circle cx="630.99" cy="107.01" r="2.5" fill="none" stroke="#1a1a1a" stroke-width="0.75"/>
<circle cx="664.56" cy="90.07" r="2.5" fill="none" stroke="#1a1a1a" stroke-width="0.75"/>
<text x="530.26" y="126.53" font-size="20.4" text-anchor="middle">d</text>
<text x="562.96" y="125.95" font-size="20.4" text-anchor="middle">c</text>
<text x="598.87" y="119.23" font-size="20.4" text-anchor="middle">b</text>
<text x="630.69" y="86.24" font-size="20.4" text-anchor="middle">a</text>
<text x="673.32" y="69.01" font-size="20.4" text-anchor="middle">a</text>
<text x="598.04" y="41.45" font-size="18" text-anchor="middle" font-style="italic">CHS1</text>
<text x="485.4" y="36.6" font-size="23.5" text-anchor="start">I</text>
<rect x="531.6" y="53.9" width="82.1" height="37.6" fill="#fff" stroke="#8c8c8c" stroke-width="0.9"/>
<path d="M531.6 53.9 V91.5 H613.7" fill="none" stroke="#444" stroke-width="1"/>
<path d="M529.2 55.62 H531.3" stroke="#333" stroke-width="0.8"/>
<text x="528.2" y="58.32" font-size="7.9" text-anchor="end" stroke="none">40</text>
<path d="M529.2 63.21 H531.3" stroke="#333" stroke-width="0.8"/>
<text x="528.2" y="65.91" font-size="7.9" text-anchor="end" stroke="none">30</text>
<path d="M529.2 70.8 H531.3" stroke="#333" stroke-width="0.8"/>
<text x="528.2" y="73.5" font-size="7.9" text-anchor="end" stroke="none">20</text>
<path d="M529.2 78.39 H531.3" stroke="#333" stroke-width="0.8"/>
<text x="528.2" y="81.09" font-size="7.9" text-anchor="end" stroke="none">10</text>
<path d="M529.2 86.28 H531.3" stroke="#333" stroke-width="0.8"/>
<text x="528.2" y="88.98" font-size="7.9" text-anchor="end" stroke="none">0</text>
<path d="M540.47 91.8 V93.9" stroke="#333" stroke-width="0.8"/>
<path d="M556.53 91.8 V93.9" stroke="#333" stroke-width="0.8"/>
<path d="M572.3 91.8 V93.9" stroke="#333" stroke-width="0.8"/>
<path d="M588.07 91.8 V93.9" stroke="#333" stroke-width="0.8"/>
<path d="M604.12 91.8 V93.9" stroke="#333" stroke-width="0.8"/>
<path d="M540.47 84.82 L556.53 85.99 L572.3 74.01 L588.07 78.98 L604.12 83.36" fill="none" stroke="#1a1a1a" stroke-width="0.9" stroke-dasharray="1 2.6"/>
<path d="M540.47 83.65 V85.99 M538.57 83.65 H542.37 M538.57 85.99 H542.37" fill="none" stroke="#1a1a1a" stroke-width="1.0"/>
<path d="M572.3 60 V88.61 M570.4 60 H574.2 M570.4 88.61 H574.2" fill="none" stroke="#1a1a1a" stroke-width="1.0"/>
<path d="M588.07 72.55 V86.28 M586.17 72.55 H589.97 M586.17 86.28 H589.97" fill="none" stroke="#1a1a1a" stroke-width="1.0"/>
<path d="M604.12 81.31 V85.4 M602.22 81.31 H606.02 M602.22 85.4 H606.02" fill="none" stroke="#1a1a1a" stroke-width="1.0"/>
<path d="M540.47 81.68 L543.67 87.28 L537.27 87.28 Z" fill="none" stroke="#1a1a1a" stroke-width="0.8" stroke-linejoin="miter"/>
<path d="M556.53 82.85 L559.73 88.45 L553.33 88.45 Z" fill="none" stroke="#1a1a1a" stroke-width="0.8" stroke-linejoin="miter"/>
<path d="M572.3 70.88 L575.5 76.48 L569.1 76.48 Z" fill="none" stroke="#1a1a1a" stroke-width="0.8" stroke-linejoin="miter"/>
<path d="M588.07 75.84 L591.27 81.44 L584.87 81.44 Z" fill="none" stroke="#1a1a1a" stroke-width="0.8" stroke-linejoin="miter"/>
<path d="M604.12 80.22 L607.32 85.82 L600.92 85.82 Z" fill="none" stroke="#1a1a1a" stroke-width="0.8" stroke-linejoin="miter"/>
<text x="541.35" y="77.63" font-size="12" text-anchor="middle" stroke-width="0.08">a</text>
<text x="557.99" y="76.17" font-size="12" text-anchor="middle" stroke-width="0.08">b</text>
<text x="577.85" y="63.03" font-size="12" text-anchor="middle" stroke-width="0.08">a</text>
<text x="589.23" y="67.12" font-size="12" text-anchor="middle" stroke-width="0.08">a</text>
<text x="604.12" y="73.84" font-size="12" text-anchor="middle" stroke-width="0.08">a</text>
<path d="M511.49 168.47 H684.59 V264" fill="none" stroke="#8a8a8a" stroke-width="1"/>
<path d="M511.49 167.97 V264 H685.09" fill="none" stroke="#333" stroke-width="1.1" stroke-linejoin="round"/>
<path d="M507.49 189.93 H511.19" stroke="#111" stroke-width="1.2"/>
<text x="505.29" y="195.73" font-size="14.0" text-anchor="end" stroke-width="0.08">60</text>
<path d="M507.49 212.99 H511.19" stroke="#111" stroke-width="1.2"/>
<text x="505.29" y="218.79" font-size="14.0" text-anchor="end" stroke-width="0.08">40</text>
<path d="M507.49 236.06 H511.19" stroke="#111" stroke-width="1.2"/>
<text x="505.29" y="241.86" font-size="14.0" text-anchor="end" stroke-width="0.08">20</text>
<path d="M507.49 259.12 H511.19" stroke="#111" stroke-width="1.2"/>
<text x="505.29" y="264.92" font-size="14.0" text-anchor="end" stroke-width="0.08">0</text>
<path d="M530.84 264.4 V268" stroke="#111" stroke-width="1.2"/>
<path d="M564.42 264.4 V268" stroke="#111" stroke-width="1.2"/>
<path d="M597.7 264.4 V268" stroke="#111" stroke-width="1.2"/>
<path d="M630.99 264.4 V268" stroke="#111" stroke-width="1.2"/>
<path d="M664.56 264.4 V268" stroke="#111" stroke-width="1.2"/>
<path d="M530.84 258.25 L564.42 259.12 L597.7 257.37 L630.99 256.79 L664.56 258.25" fill="none" stroke="#1a1a1a" stroke-width="0.9" stroke-dasharray="1 2.6"/>
<path d="M530.84 258.25 L564.42 251.82 L597.7 244.82 L630.99 222.04 L664.56 200.44" fill="none" stroke="#1a1a1a" stroke-width="0.9"/>
<path d="M530.84 257.37 V259.12 M527.54 257.37 H534.14 M527.54 259.12 H534.14" fill="none" stroke="#1a1a1a" stroke-width="0.85"/>
<path d="M597.7 255.91 V258.83 M594.4 255.91 H601 M594.4 258.83 H601" fill="none" stroke="#1a1a1a" stroke-width="0.85"/>
<path d="M630.99 255.62 V257.96 M627.69 255.62 H634.29 M627.69 257.96 H634.29" fill="none" stroke="#1a1a1a" stroke-width="0.85"/>
<path d="M664.56 257.37 V259.12 M661.26 257.37 H667.86 M661.26 259.12 H667.86" fill="none" stroke="#1a1a1a" stroke-width="0.85"/>
<path d="M530.84 257.37 V259.12 M527.54 257.37 H534.14 M527.54 259.12 H534.14" fill="none" stroke="#1a1a1a" stroke-width="0.85"/>
<path d="M564.42 248.61 V254.45 M561.12 248.61 H567.72 M561.12 254.45 H567.72" fill="none" stroke="#1a1a1a" stroke-width="0.85"/>
<path d="M597.7 240.15 V249.49 M594.4 240.15 H601 M594.4 249.49 H601" fill="none" stroke="#1a1a1a" stroke-width="0.85"/>
<path d="M630.99 210.07 V233.43 M627.69 210.07 H634.29 M627.69 233.43 H634.29" fill="none" stroke="#1a1a1a" stroke-width="0.85"/>
<path d="M664.56 180.29 V220.29 M661.26 180.29 H667.86 M661.26 220.29 H667.86" fill="none" stroke="#1a1a1a" stroke-width="0.85"/>
<path d="M530.84 255.11 L534.14 260.71 L527.54 260.71 Z" fill="none" stroke="#1a1a1a" stroke-width="0.8" stroke-linejoin="miter"/>
<path d="M564.42 255.99 L567.72 261.59 L561.12 261.59 Z" fill="none" stroke="#1a1a1a" stroke-width="0.8" stroke-linejoin="miter"/>
<path d="M597.7 254.24 L601 259.84 L594.4 259.84 Z" fill="none" stroke="#1a1a1a" stroke-width="0.8" stroke-linejoin="miter"/>
<path d="M630.99 253.65 L634.29 259.25 L627.69 259.25 Z" fill="none" stroke="#1a1a1a" stroke-width="0.8" stroke-linejoin="miter"/>
<path d="M664.56 255.11 L667.86 260.71 L661.26 260.71 Z" fill="none" stroke="#1a1a1a" stroke-width="0.8" stroke-linejoin="miter"/>
<circle cx="530.84" cy="258.25" r="2.5" fill="none" stroke="#1a1a1a" stroke-width="0.75"/>
<circle cx="564.42" cy="251.82" r="2.5" fill="none" stroke="#1a1a1a" stroke-width="0.75"/>
<circle cx="597.7" cy="244.82" r="2.5" fill="none" stroke="#1a1a1a" stroke-width="0.75"/>
<circle cx="630.99" cy="222.04" r="2.5" fill="none" stroke="#1a1a1a" stroke-width="0.75"/>
<circle cx="664.56" cy="200.44" r="2.5" fill="none" stroke="#1a1a1a" stroke-width="0.75"/>
<text x="530.26" y="247.11" font-size="20.4" text-anchor="middle">d</text>
<text x="563.83" y="241.27" font-size="20.4" text-anchor="middle">c</text>
<text x="598.87" y="231.93" font-size="20.4" text-anchor="middle">b</text>
<text x="630.69" y="203.32" font-size="20.4" text-anchor="middle">a</text>
<text x="674.2" y="183.17" font-size="20.4" text-anchor="middle">a</text>
<text x="598.04" y="164.47" font-size="18" text-anchor="middle" font-style="italic">CHS2</text>
<text x="485.4" y="161.57" font-size="23.5" text-anchor="start">J</text>
<path d="M511.49 291.5 H684.59 V386.9" fill="none" stroke="#8a8a8a" stroke-width="1"/>
<path d="M511.49 291 V386.9 H685.09" fill="none" stroke="#333" stroke-width="1.1" stroke-linejoin="round"/>
<path d="M507.49 295.36 H511.19" stroke="#111" stroke-width="1.2"/>
<text x="505.29" y="301.16" font-size="14.0" text-anchor="end" stroke-width="0.08">40</text>
<path d="M507.49 317.26 H511.19" stroke="#111" stroke-width="1.2"/>
<text x="505.29" y="323.06" font-size="14.0" text-anchor="end" stroke-width="0.08">30</text>
<path d="M507.49 338.87 H511.19" stroke="#111" stroke-width="1.2"/>
<text x="505.29" y="344.67" font-size="14.0" text-anchor="end" stroke-width="0.08">20</text>
<path d="M507.49 360.77 H511.19" stroke="#111" stroke-width="1.2"/>
<text x="505.29" y="366.57" font-size="14.0" text-anchor="end" stroke-width="0.08">10</text>
<path d="M507.49 382.37 H511.19" stroke="#111" stroke-width="1.2"/>
<text x="505.29" y="388.17" font-size="14.0" text-anchor="end" stroke-width="0.08">0</text>
<path d="M530.84 387.3 V390.9" stroke="#111" stroke-width="1.2"/>
<path d="M564.42 387.3 V390.9" stroke="#111" stroke-width="1.2"/>
<path d="M597.7 387.3 V390.9" stroke="#111" stroke-width="1.2"/>
<path d="M630.99 387.3 V390.9" stroke="#111" stroke-width="1.2"/>
<path d="M664.56 387.3 V390.9" stroke="#111" stroke-width="1.2"/>
<path d="M530.84 377.41 L564.42 380.33 L597.7 380.91 L630.99 380.91 L664.56 381.5" fill="none" stroke="#1a1a1a" stroke-width="0.9" stroke-dasharray="1 2.6"/>
<path d="M530.84 379.74 L564.42 370.11 L597.7 377.12 L630.99 371.57 L664.56 325.15" fill="none" stroke="#1a1a1a" stroke-width="0.9"/>
<path d="M530.84 373.61 V380.91 M527.54 373.61 H534.14 M527.54 380.91 H534.14" fill="none" stroke="#1a1a1a" stroke-width="0.85"/>
<path d="M564.42 379.45 V381.2 M561.12 379.45 H567.72 M561.12 381.2 H567.72" fill="none" stroke="#1a1a1a" stroke-width="0.85"/>
<path d="M597.7 380.04 V381.79 M594.4 380.04 H601 M594.4 381.79 H601" fill="none" stroke="#1a1a1a" stroke-width="0.85"/>
<path d="M630.99 380.33 V381.79 M627.69 380.33 H634.29 M627.69 381.79 H634.29" fill="none" stroke="#1a1a1a" stroke-width="0.85"/>
<path d="M664.56 380.91 V382.08 M661.26 380.91 H667.86 M661.26 382.08 H667.86" fill="none" stroke="#1a1a1a" stroke-width="0.85"/>
<path d="M530.84 377.41 V381.79 M527.54 377.41 H534.14 M527.54 381.79 H534.14" fill="none" stroke="#1a1a1a" stroke-width="0.85"/>
<path d="M564.42 367.19 V373.03 M561.12 367.19 H567.72 M561.12 373.03 H567.72" fill="none" stroke="#1a1a1a" stroke-width="0.85"/>
<path d="M597.7 375.36 V379.45 M594.4 375.36 H601 M594.4 379.45 H601" fill="none" stroke="#1a1a1a" stroke-width="0.85"/>
<path d="M630.99 370.11 V373.03 M627.69 370.11 H634.29 M627.69 373.03 H634.29" fill="none" stroke="#1a1a1a" stroke-width="0.85"/>
<path d="M664.56 313.18 V336.53 M661.26 313.18 H667.86 M661.26 336.53 H667.86" fill="none" stroke="#1a1a1a" stroke-width="0.85"/>
<path d="M530.84 374.27 L534.14 379.87 L527.54 379.87 Z" fill="none" stroke="#1a1a1a" stroke-width="0.8" stroke-linejoin="miter"/>
<path d="M564.42 377.19 L567.72 382.79 L561.12 382.79 Z" fill="none" stroke="#1a1a1a" stroke-width="0.8" stroke-linejoin="miter"/>
<path d="M597.7 377.78 L601 383.38 L594.4 383.38 Z" fill="none" stroke="#1a1a1a" stroke-width="0.8" stroke-linejoin="miter"/>
<path d="M630.99 377.78 L634.29 383.38 L627.69 383.38 Z" fill="none" stroke="#1a1a1a" stroke-width="0.8" stroke-linejoin="miter"/>
<path d="M664.56 378.36 L667.86 383.96 L661.26 383.96 Z" fill="none" stroke="#1a1a1a" stroke-width="0.8" stroke-linejoin="miter"/>
<circle cx="530.84" cy="379.74" r="2.5" fill="none" stroke="#1a1a1a" stroke-width="0.75"/>
<circle cx="564.42" cy="370.11" r="2.5" fill="none" stroke="#1a1a1a" stroke-width="0.75"/>
<circle cx="597.7" cy="377.12" r="2.5" fill="none" stroke="#1a1a1a" stroke-width="0.75"/>
<circle cx="630.99" cy="371.57" r="2.5" fill="none" stroke="#1a1a1a" stroke-width="0.75"/>
<circle cx="664.56" cy="325.15" r="2.5" fill="none" stroke="#1a1a1a" stroke-width="0.75"/>
<text x="530.84" y="366.27" font-size="20.4" text-anchor="middle">d</text>
<text x="564.71" y="358.39" font-size="20.4" text-anchor="middle">b</text>
<text x="598.28" y="368.03" font-size="20.4" text-anchor="middle">c</text>
<text x="631.28" y="361.31" font-size="20.4" text-anchor="middle">b</text>
<text x="663.69" y="307.3" font-size="20.4" text-anchor="middle">a</text>
<text x="598.04" y="287.5" font-size="18" text-anchor="middle" font-style="italic">UFGT1</text>
<text x="485.4" y="284.6" font-size="23.5" text-anchor="start">K</text>
<path d="M511.49 414.5 H684.59 V509.8" fill="none" stroke="#8a8a8a" stroke-width="1"/>
<path d="M511.49 414 V509.8 H685.09" fill="none" stroke="#333" stroke-width="1.1" stroke-linejoin="round"/>
<path d="M507.49 418.32 H511.19" stroke="#111" stroke-width="1.2"/>
<text x="505.29" y="424.12" font-size="14.0" text-anchor="end" stroke-width="0.08">30</text>
<path d="M507.49 447.23 H511.19" stroke="#111" stroke-width="1.2"/>
<text x="505.29" y="453.03" font-size="14.0" text-anchor="end" stroke-width="0.08">20</text>
<path d="M507.49 476.13 H511.19" stroke="#111" stroke-width="1.2"/>
<text x="505.29" y="481.93" font-size="14.0" text-anchor="end" stroke-width="0.08">10</text>
<path d="M507.49 505.33 H511.19" stroke="#111" stroke-width="1.2"/>
<text x="505.29" y="511.13" font-size="14.0" text-anchor="end" stroke-width="0.08">0</text>
<path d="M530.84 510.2 V513.8" stroke="#111" stroke-width="1.2"/>
<text x="530.84" y="526" font-size="14.0" text-anchor="middle" stroke-width="0.08">S4</text>
<path d="M564.42 510.2 V513.8" stroke="#111" stroke-width="1.2"/>
<text x="564.42" y="526" font-size="14.0" text-anchor="middle" stroke-width="0.08">S5</text>
<path d="M597.7 510.2 V513.8" stroke="#111" stroke-width="1.2"/>
<text x="597.7" y="526" font-size="14.0" text-anchor="middle" stroke-width="0.08">S6</text>
<path d="M630.99 510.2 V513.8" stroke="#111" stroke-width="1.2"/>
<text x="630.99" y="526" font-size="14.0" text-anchor="middle" stroke-width="0.08">S7</text>
<path d="M664.56 510.2 V513.8" stroke="#111" stroke-width="1.2"/>
<text x="664.56" y="526" font-size="14.0" text-anchor="middle" stroke-width="0.08">S8</text>
<path d="M530.84 503.28 L564.42 505.04 L597.7 503.28 L630.99 502.7 L664.56 501.24" fill="none" stroke="#1a1a1a" stroke-width="0.9" stroke-dasharray="1 2.6"/>
<path d="M530.84 502.41 L564.42 502.41 L597.7 501.24 L630.99 497.45 L664.56 461.53" fill="none" stroke="#1a1a1a" stroke-width="0.9"/>
<path d="M530.84 502.12 V504.45 M527.54 502.12 H534.14 M527.54 504.45 H534.14" fill="none" stroke="#1a1a1a" stroke-width="0.85"/>
<path d="M564.42 504.16 V505.91 M561.12 504.16 H567.72 M561.12 505.91 H567.72" fill="none" stroke="#1a1a1a" stroke-width="0.85"/>
<path d="M597.7 502.12 V504.16 M594.4 502.12 H601 M594.4 504.16 H601" fill="none" stroke="#1a1a1a" stroke-width="0.85"/>
<path d="M630.99 501.24 V504.16 M627.69 501.24 H634.29 M627.69 504.16 H634.29" fill="none" stroke="#1a1a1a" stroke-width="0.85"/>
<path d="M664.56 498.91 V503.28 M661.26 498.91 H667.86 M661.26 503.28 H667.86" fill="none" stroke="#1a1a1a" stroke-width="0.85"/>
<path d="M530.84 501.24 V503.58 M527.54 501.24 H534.14 M527.54 503.58 H534.14" fill="none" stroke="#1a1a1a" stroke-width="0.85"/>
<path d="M564.42 500.66 V504.16 M561.12 500.66 H567.72 M561.12 504.16 H567.72" fill="none" stroke="#1a1a1a" stroke-width="0.85"/>
<path d="M597.7 500.07 V502.41 M594.4 500.07 H601 M594.4 502.41 H601" fill="none" stroke="#1a1a1a" stroke-width="0.85"/>
<path d="M630.99 496.28 V498.61 M627.69 496.28 H634.29 M627.69 498.61 H634.29" fill="none" stroke="#1a1a1a" stroke-width="0.85"/>
<path d="M664.56 438.18 V484.89 M661.26 438.18 H667.86 M661.26 484.89 H667.86" fill="none" stroke="#1a1a1a" stroke-width="0.85"/>
<path d="M530.84 500.15 L534.14 505.75 L527.54 505.75 Z" fill="none" stroke="#1a1a1a" stroke-width="0.8" stroke-linejoin="miter"/>
<path d="M564.42 501.9 L567.72 507.5 L561.12 507.5 Z" fill="none" stroke="#1a1a1a" stroke-width="0.8" stroke-linejoin="miter"/>
<path d="M597.7 500.15 L601 505.75 L594.4 505.75 Z" fill="none" stroke="#1a1a1a" stroke-width="0.8" stroke-linejoin="miter"/>
<path d="M630.99 499.56 L634.29 505.16 L627.69 505.16 Z" fill="none" stroke="#1a1a1a" stroke-width="0.8" stroke-linejoin="miter"/>
<path d="M664.56 498.1 L667.86 503.7 L661.26 503.7 Z" fill="none" stroke="#1a1a1a" stroke-width="0.8" stroke-linejoin="miter"/>
<circle cx="530.84" cy="502.41" r="2.5" fill="none" stroke="#1a1a1a" stroke-width="0.75"/>
<circle cx="564.42" cy="502.41" r="2.5" fill="none" stroke="#1a1a1a" stroke-width="0.75"/>
<circle cx="597.7" cy="501.24" r="2.5" fill="none" stroke="#1a1a1a" stroke-width="0.75"/>
<circle cx="630.99" cy="497.45" r="2.5" fill="none" stroke="#1a1a1a" stroke-width="0.75"/>
<circle cx="664.56" cy="461.53" r="2.5" fill="none" stroke="#1a1a1a" stroke-width="0.75"/>
<text x="531.72" y="493.03" font-size="20.4" text-anchor="middle">c</text>
<text x="563.83" y="493.03" font-size="20.4" text-anchor="middle">c</text>
<text x="598.87" y="494.49" font-size="20.4" text-anchor="middle">bc</text>
<text x="630.69" y="483.98" font-size="20.4" text-anchor="middle">b</text>
<text x="663.69" y="430.84" font-size="20.4" text-anchor="middle">a</text>
<text x="598.04" y="410.5" font-size="18" text-anchor="middle" font-style="italic">UFGT2</text>
<text x="485.4" y="407.6" font-size="23.5" text-anchor="start">L</text>
<rect x="532.6" y="422.4" width="80.7" height="37.8" fill="#fff" stroke="#8c8c8c" stroke-width="0.9"/>
<path d="M532.6 422.4 V460.2 H613.3" fill="none" stroke="#444" stroke-width="1"/>
<path d="M530.2 423.87 H532.3" stroke="#333" stroke-width="0.8"/>
<text x="529.2" y="426.57" font-size="7.2" text-anchor="end" stroke="none">2.5</text>
<path d="M530.2 431.17 H532.3" stroke="#333" stroke-width="0.8"/>
<text x="529.2" y="433.87" font-size="7.2" text-anchor="end" stroke="none">2.0</text>
<path d="M530.2 438.18 H532.3" stroke="#333" stroke-width="0.8"/>
<text x="529.2" y="440.88" font-size="7.2" text-anchor="end" stroke="none">1.5</text>
<path d="M530.2 445.18 H532.3" stroke="#333" stroke-width="0.8"/>
<text x="529.2" y="447.88" font-size="7.2" text-anchor="end" stroke="none">1.0</text>
<path d="M530.2 452.19 H532.3" stroke="#333" stroke-width="0.8"/>
<text x="529.2" y="454.89" font-size="7.2" text-anchor="end" stroke="none">0.5</text>
<path d="M530.2 459.49 H532.3" stroke="#333" stroke-width="0.8"/>
<text x="529.2" y="462.19" font-size="7.2" text-anchor="end" stroke="none">0.0</text>
<path d="M542.81 460.5 V462.6" stroke="#333" stroke-width="0.8"/>
<path d="M557.99 460.5 V462.6" stroke="#333" stroke-width="0.8"/>
<path d="M573.47 460.5 V462.6" stroke="#333" stroke-width="0.8"/>
<path d="M589.23 460.5 V462.6" stroke="#333" stroke-width="0.8"/>
<path d="M604.71 460.5 V462.6" stroke="#333" stroke-width="0.8"/>
<path d="M542.81 449.27 L557.99 458.03 L573.47 449.27 L589.23 447.52 L604.71 437.59" fill="none" stroke="#1a1a1a" stroke-width="0.9" stroke-dasharray="1 2.6"/>
<path d="M542.81 443.43 V455.69 M540.91 443.43 H544.71 M540.91 455.69 H544.71" fill="none" stroke="#1a1a1a" stroke-width="1.0"/>
<path d="M557.99 455.69 V460.95 M556.09 455.69 H559.89 M556.09 460.95 H559.89" fill="none" stroke="#1a1a1a" stroke-width="1.0"/>
<path d="M573.47 446.35 V452.19 M571.57 446.35 H575.37 M571.57 452.19 H575.37" fill="none" stroke="#1a1a1a" stroke-width="1.0"/>
<path d="M589.23 443.14 V451.9 M587.33 443.14 H591.13 M587.33 451.9 H591.13" fill="none" stroke="#1a1a1a" stroke-width="1.0"/>
<path d="M604.71 427.96 V447.52 M602.81 427.96 H606.61 M602.81 447.52 H606.61" fill="none" stroke="#1a1a1a" stroke-width="1.0"/>
<path d="M542.81 446.13 L546.01 451.73 L539.61 451.73 Z" fill="none" stroke="#1a1a1a" stroke-width="0.8" stroke-linejoin="miter"/>
<path d="M557.99 454.89 L561.19 460.49 L554.79 460.49 Z" fill="none" stroke="#1a1a1a" stroke-width="0.8" stroke-linejoin="miter"/>
<path d="M573.47 446.13 L576.67 451.73 L570.27 451.73 Z" fill="none" stroke="#1a1a1a" stroke-width="0.8" stroke-linejoin="miter"/>
<path d="M589.23 444.38 L592.43 449.98 L586.03 449.98 Z" fill="none" stroke="#1a1a1a" stroke-width="0.8" stroke-linejoin="miter"/>
<path d="M604.71 434.46 L607.91 440.06 L601.51 440.06 Z" fill="none" stroke="#1a1a1a" stroke-width="0.8" stroke-linejoin="miter"/>
<text x="542.81" y="439.46" font-size="12" text-anchor="middle" stroke-width="0.08">a</text>
<text x="557.99" y="448.21" font-size="12" text-anchor="middle" stroke-width="0.08">b</text>
<text x="572.59" y="440.04" font-size="12" text-anchor="middle" stroke-width="0.08">a</text>
<text x="589.23" y="438" font-size="12" text-anchor="middle" stroke-width="0.08">a</text>
<text x="609.96" y="431.57" font-size="12" text-anchor="middle" stroke-width="0.08">a</text>
<path d="M241.6 7.0 H267.8" stroke="#1a1a1a" stroke-width="0.9"/>
<circle cx="254.7" cy="7.0" r="3.9" fill="none" stroke="#1a1a1a" stroke-width="0.8"/>
<text x="283.4" y="13.3" font-size="18.8" text-anchor="start">Powderblue</text>
<path d="M387.3 7.0 H412.6" stroke="#1a1a1a" stroke-width="0.9" stroke-dasharray="1 2.6"/>
<path d="M400.8 0.9 L406.8 10.4 L394.8 10.4 Z" fill="none" stroke="#1a1a1a" stroke-width="0.8"/>
<text x="429" y="13.3" font-size="18.8" text-anchor="start">Premier</text>
<text x="369" y="565.2" font-size="26.6" text-anchor="middle">Fruit development stages</text>
<text transform="translate(19.6 276.5) rotate(-90)" font-size="26.4" text-anchor="middle">Relative expression</text>
</svg>
</body></html>
